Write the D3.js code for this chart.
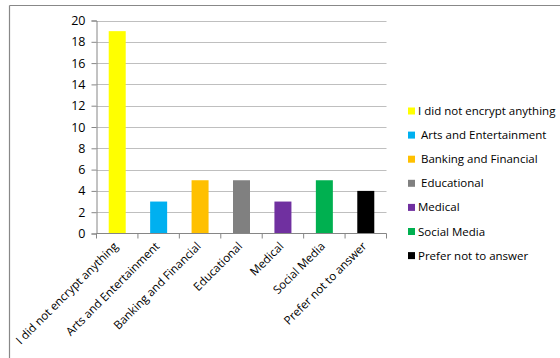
<!DOCTYPE html>
<html><head><meta charset="utf-8">
<script src="https://cdn.jsdelivr.net/npm/d3@7"></script>
<style>body{margin:0;background:#fff}svg{display:block;font-family:"Open Sans","Noto Sans",sans-serif}</style>
</head><body>
<svg id="c" width="560" height="358"></svg>
<script>
const categories = ["I did not encrypt anything","Arts and Entertainment","Banking and Financial","Educational","Medical","Social Media","Prefer not to answer"];
const legendLabels = ["I did not encrypt anything"," Arts and Entertainment"," Banking and Financial"," Educational","Medical","Social Media","Prefer not to answer"];
const values = [19,3,5,5,3,5,4];
const colors = ["#ffff00","#00b0f0","#ffc000","#808080","#7030a0","#00b050","#000000"];
const yTicks = [0,2,4,6,8,10,12,14,16,18,20];

const svg = d3.select("#c");
// chart border (top and left visible)
svg.append("line").attr("x1",9.5).attr("x2",560).attr("y1",5.5).attr("y2",5.5).attr("stroke","#888").attr("stroke-width",1.2);
svg.append("line").attr("x1",9.5).attr("x2",9.5).attr("y1",5.5).attr("y2",358).attr("stroke","#888").attr("stroke-width",1.2);

const L=96.5, R=386.5, T=20.5, B=233.5;
const xb = d3.scaleBand().domain(categories).range([L,R]);
const y = d3.scaleLinear().domain([0,20]).range([B,T]);

// gridlines
svg.append("g").selectAll("line").data(yTicks.filter(d=>d>0)).join("line")
  .attr("x1",L).attr("x2",R).attr("y1",d=>Math.round(y(d))+0.5).attr("y2",d=>Math.round(y(d))+0.5)
  .attr("stroke","#bfbfbf").attr("stroke-width",1);

// bars
svg.append("g").selectAll("rect").data(values).join("rect")
  .attr("x",(d,i)=>xb(categories[i])+xb.bandwidth()/2-8.5)
  .attr("width",17)
  .attr("y",d=>y(d)).attr("height",d=>B-y(d))
  .attr("fill",(d,i)=>colors[i]);

// y axis
const yAxis = d3.axisLeft(y).tickValues(yTicks).tickSize(5).tickPadding(6);
const gy = svg.append("g").attr("transform",`translate(${L},0)`).call(yAxis);
gy.select(".domain").attr("stroke","#868686");
gy.selectAll(".tick line").attr("stroke","#868686");
gy.selectAll(".tick text").attr("font-size",12.5).attr("fill","#000").attr("font-family","Open Sans, sans-serif");

// x axis
const gx = svg.append("g").attr("transform",`translate(0,${B})`);
gx.append("line").attr("x1",L).attr("x2",R).attr("y1",0).attr("y2",0).attr("stroke","#868686");
const bounds = categories.map(c=>xb(c)).concat([R]);
gx.selectAll("line.t").data(bounds).join("line").attr("class","t")
  .attr("x1",d=>d).attr("x2",d=>d).attr("y1",0).attr("y2",5).attr("stroke","#868686");
gx.selectAll("text").data(categories).join("text")
  .attr("transform",c=>`translate(${xb(c)+xb.bandwidth()/2+1.5},${13.5}) rotate(-45)`)
  .attr("text-anchor","end").attr("font-size",11.6).attr("fill","#000")
  .text(c=>c);

// legend
const lg = svg.append("g");
legendLabels.forEach((t,i)=>{
  const yy = 111 + i*24.1;
  lg.append("rect").attr("x",408).attr("y",yy-3.5).attr("width",7).attr("height",7).attr("fill",colors[i]);
  lg.append("text").attr("x",418).attr("y",yy).attr("dy","0.35em").attr("font-size",11.5).attr("fill","#000")
    .attr("xml:space","preserve").style("white-space","pre").text(t);
});
</script>
</body></html>
